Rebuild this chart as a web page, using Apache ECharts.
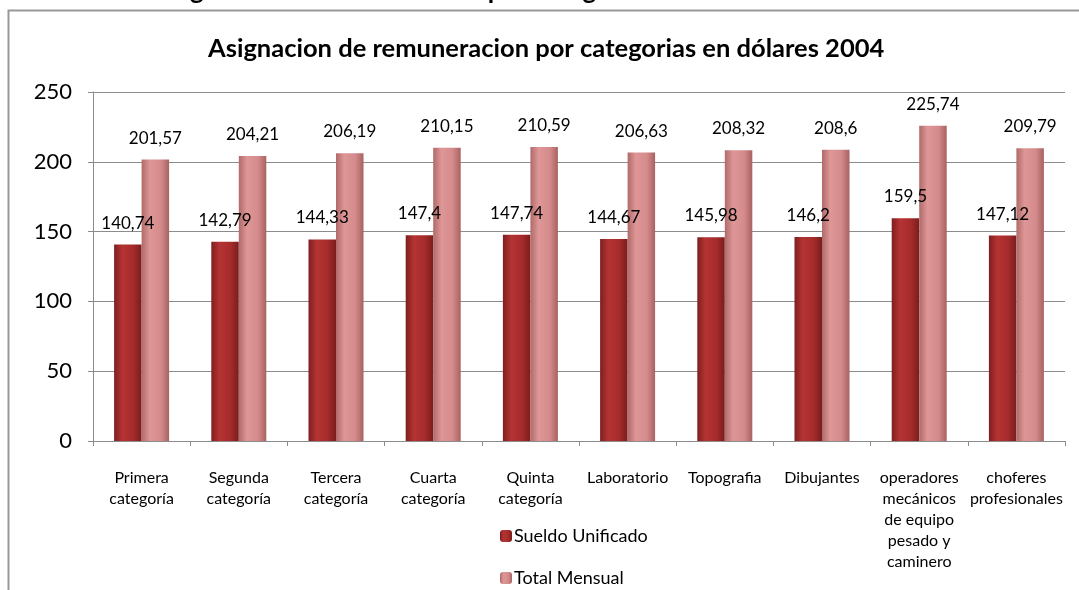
<!DOCTYPE html>
<html>
<head>
<meta charset="utf-8">
<script src="https://cdn.jsdelivr.net/npm/echarts@6/dist/echarts.min.js"></script>
<style>
html,body{margin:0;padding:0;background:#fff;}
#chart{width:1079px;height:590px;}
</style>
</head>
<body>
<div id="chart"></div>
<script>
var titleText = 'Asignacion de remuneracion por categorias en dólares 2004';
var categories = ['Primera\ncategoría','Segunda\ncategoría','Tercera\ncategoría','Cuarta\ncategoría','Quinta\ncategoría','Laboratorio','Topografia','Dibujantes','operadores\nmecánicos\nde equipo\npesado y\ncaminero','choferes\nprofesionales'];
var seriesNames = ['Sueldo Unificado','Total Mensual'];
var sueldoUnificado = [140.74,142.79,144.33,147.4,147.74,144.67,145.98,146.2,159.5,147.12];
var totalMensual = [201.57,204.21,206.19,210.15,210.59,206.63,208.32,208.6,225.74,209.79];
var yTicks = {min:0,max:250,interval:50};

var FONT = 'Lato, "Open Sans", sans-serif';
function grad(stops){
  return new echarts.graphic.LinearGradient(0,0,1,0,stops.map(function(s){return {offset:s[0],color:s[1]};}));
}
var chart = echarts.init(document.getElementById('chart'), null, {renderer:'canvas'});
var fmt = function(p){ return String(p.value).replace('.', ','); };
function legendItem(name, top){
  return {
    orient:'vertical', left:495, top:top,
    itemWidth:12, itemHeight:12,
    textStyle:{fontFamily:FONT,fontSize:18,color:'#000',padding:[0,0,0,-3]},
    data:[name]
  };
}
chart.setOption({
  animation:false,
  backgroundColor:'#fff',
  textStyle:{fontFamily:FONT},
  title:{
    text:titleText,
    left:203, top:31,
    textStyle:{fontFamily:FONT,fontWeight:'bold',fontSize:25.5,color:'#000'}
  },
  graphic:[
    {type:'rect',left:6,top:8,shape:{width:1100,height:600},style:{fill:'none',stroke:'#999',lineWidth:2},silent:true},
    {type:'text',x:154,y:4,style:{text:titleText,font:'bold 26px '+FONT,fill:'#000',verticalAlign:'bottom'},silent:true}
  ],
  grid:{left:93,right:14,top:92,bottom:149,containLabel:false},
  legend:[legendItem(seriesNames[0],522),legendItem(seriesNames[1],564)],
  xAxis:{
    type:'category', data:categories,
    axisLine:{lineStyle:{color:'#8c8c8c',width:1}},
    axisTick:{show:true,length:5,lineStyle:{color:'#8c8c8c'}},
    axisLabel:{interval:0,fontFamily:FONT,fontSize:16,color:'#000',lineHeight:21,margin:26}
  },
  yAxis:{
    type:'value', min:yTicks.min, max:yTicks.max, interval:yTicks.interval,
    axisLine:{show:true,lineStyle:{color:'#8c8c8c'}},
    axisTick:{show:true,length:5,lineStyle:{color:'#8c8c8c'}},
    splitLine:{lineStyle:{color:'#8c8c8c',width:1}},
    axisLabel:{fontFamily:FONT,fontSize:22,color:'#000',margin:21}
  },
  series:[
    {
      name:seriesNames[0], type:'bar', data:sueldoUnificado,
      barWidth:27.5, barGap:'0%',
      itemStyle:{color:grad([[0,'#7e1f1f'],[0.3,'#b53333'],[0.7,'#a62b2b'],[1,'#7a1d1d']])},
      label:{show:true,position:'top',distance:13,fontFamily:FONT,fontSize:17,color:'#000',formatter:fmt}
    },
    {
      name:seriesNames[1], type:'bar', data:totalMensual,
      barWidth:27.5,
      itemStyle:{color:grad([[0,'#b06a6a'],[0.3,'#de9696'],[0.7,'#d58b8b'],[1,'#a86262']])},
      label:{show:true,position:'top',distance:13,fontFamily:FONT,fontSize:17,color:'#000',formatter:fmt}
    }
  ]
});
</script>
</body>
</html>
